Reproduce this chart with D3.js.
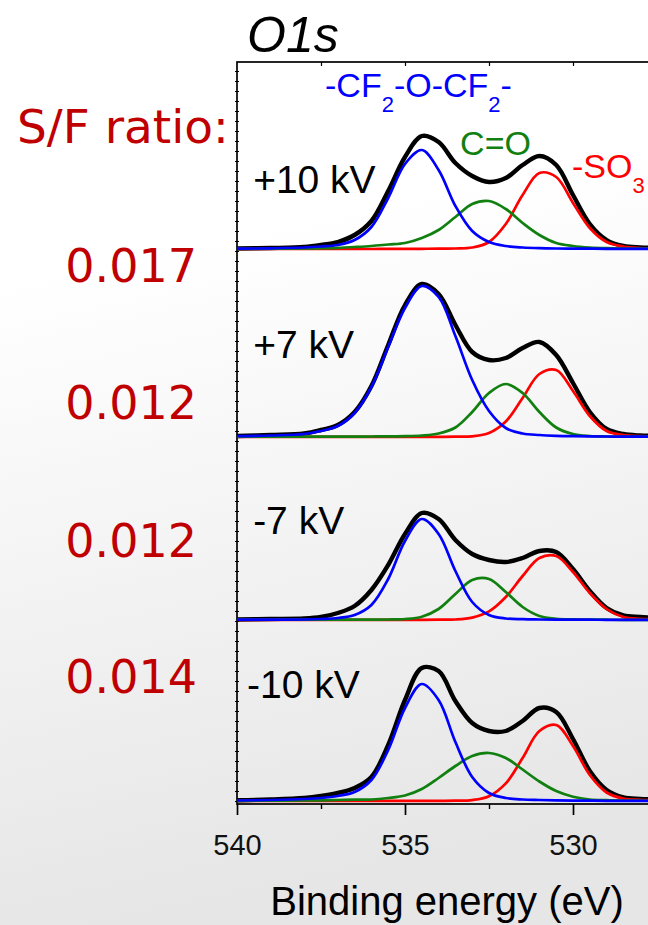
<!DOCTYPE html>
<html>
<head>
<meta charset="utf-8">
<script src="https://cdn.jsdelivr.net/npm/d3@7"></script>
<style>
  html, body { margin: 0; padding: 0; }
  body { width: 648px; height: 925px; overflow: hidden; }
</style>
</head>
<body>
<div id="chart"></div>
<script>
let width = 648;
let height = 925;

// binding energy grid (eV) shared by all spectra
const energy = [540, 539, 538, 537.5, 537, 536.5, 536, 535.5, 535, 534.5, 534, 533.5,
                533, 532.5, 532, 531.5, 531, 530.5, 530, 529.5, 529, 528.5, 528, 527.5];

// spectra, top to bottom
const samples = ["+10 kV", "+7 kV", "-7 kV", "-10 kV"];
const offsets = [552, 364, 181, 0];
const ratios = ["0.017", "0.012", "0.012", "0.014"];

// measured envelope (black)
const dataP10 = [0.5, 1, 2, 4, 7, 14, 28, 58, 92, 113, 107, 86, 73, 67, 71, 84, 93, 84, 54, 25, 9, 3, 1.5, 1];
const dataP7  = [1, 2, 3.5, 7, 12, 25, 51, 92, 132, 153, 143, 112, 85, 77, 79, 89, 95, 82, 54, 25, 8, 3, 1.5, 1];
const dataM7  = [0.5, 1, 1.5, 3, 7, 14, 30, 55, 86, 107, 101, 80, 66, 60, 58, 62, 69, 68, 51, 29, 12, 4.5, 3, 2];
const dataM10 = [0.8, 1.5, 3, 5, 8, 13, 24, 56, 101, 133, 130, 100, 78, 70, 70, 80, 93, 89, 62, 30, 11, 3.5, 2, 1.5];

// -CF2-O-CF2- component (blue)
const ethP10 = [0.3, 0.7, 1.5, 2.5, 4, 9, 22, 51, 85, 99, 79, 43, 18, 7, 3, 1.5, 0.8, 0.5, 0.4, 0.3, 0.2, 0.2, 0.1, 0.1];
const ethP7  = [0.8, 1.5, 3, 6, 11, 24, 50, 90, 129, 151, 140, 101, 57, 26, 9, 3.5, 2, 1.2, 0.8, 0.6, 0.5, 0.4, 0.3, 0.3];
const ethM7  = [0.3, 0.3, 0.5, 1, 2, 5, 15, 41, 79, 101, 86, 49, 18, 5, 1.5, 0.8, 0.5, 0.3, 0.3, 0.3, 0.2, 0.2, 0.2, 0.2];
const ethM10 = [0.5, 1, 2, 3, 5, 9, 21, 51, 93, 117, 101, 59, 24, 8, 3, 1.5, 1, 0.6, 0.4, 0.3, 0.2, 0.2, 0.2, 0.2];

// C=O component (green)
const coP10 = [0.2, 0.3, 0.5, 0.8, 1.2, 2, 3, 4.5, 6, 11, 19, 32, 45, 48, 40, 26, 14, 6, 3, 1.5, 0.8, 0.5, 0.4, 0.3];
const coP7  = [0.3, 0.3, 0.3, 0.3, 0.4, 0.4, 0.5, 0.6, 0.8, 1.5, 3.5, 9.5, 25, 44, 53, 44, 25, 9.5, 3, 1, 0.5, 0.4, 0.3, 0.3];
const coM7  = [0.3, 0.3, 0.3, 0.3, 0.3, 0.3, 0.4, 0.5, 1, 3.3, 11, 26, 40, 41, 28, 13, 4, 1.2, 0.6, 0.4, 0.3, 0.2, 0.2, 0.2];
const coM10 = [0.2, 0.3, 0.5, 0.7, 1, 1.3, 1.5, 3, 5.5, 12, 23, 35, 45, 48, 43, 31.5, 19.5, 10, 4.3, 1.5, 0.8, 0.4, 0.3, 0.2];

// -SO3 component (red)
const soP10 = [0, 0, 0, 0, 0, 0, 0, 0.1, 0.1, 0.2, 0.3, 0.5, 1.5, 7, 25, 54, 76, 72, 46, 21, 7, 2.5, 1, 0.5];
const soP7  = [0.2, 0.2, 0.2, 0.2, 0.2, 0.2, 0.2, 0.2, 0.2, 0.2, 0.2, 0.3, 0.7, 4, 15.5, 39, 63, 67, 46, 21, 6, 2, 0.8, 0.5];
const soM7  = [0.2, 0.2, 0.2, 0.2, 0.2, 0.2, 0.2, 0.2, 0.2, 0.2, 0.3, 0.5, 2.4, 8.6, 23, 44, 62, 64, 48, 27, 11, 3, 1.2, 0.5];
const soM10 = [0.1, 0.1, 0.1, 0.1, 0.1, 0.1, 0.1, 0.1, 0.1, 0.1, 0.2, 0.3, 0.9, 4.8, 17.6, 43, 70, 76, 55, 26, 8.5, 2.5, 1.2, 0.6];

// x axis ticks
const majorTicks = [540, 535, 530];
const tickLabels = ["540", "535", "530"];
const minorTicks = [537.5, 532.5, 527.5];

const spectra = [
    { data: dataP10, eth: ethP10, co: coP10, so: soP10 },
    { data: dataP7, eth: ethP7, co: coP7, so: soP7 },
    { data: dataM7, eth: ethM7, co: coM7, so: soM7 },
    { data: dataM10, eth: ethM10, co: coM10, so: soM10 }
];

// sample label placement: energy of left edge, height above own baseline
const labelEnergy = [539.52, 539.52, 539.52, 539.7];
const labelLift = [56, 79, 86, 103];

const plot = { left: 237, top: 62, bottom: 804, right: 657 };
const sans = "'Liberation Sans', Arial, sans-serif";
const darkRed = "#c00000";

const svg = d3.select("#chart")
    .append("svg")
    .attr("width", width)
    .attr("height", height);

// background gradient
const defs = svg.append("defs");
const grad = defs.append("linearGradient")
    .attr("id", "bg")
    .attr("x1", "0").attr("y1", "0").attr("x2", "0.15").attr("y2", "1");
grad.append("stop").attr("offset", "0").attr("stop-color", "#ffffff");
grad.append("stop").attr("offset", "0.3").attr("stop-color", "#ffffff");
grad.append("stop").attr("offset", "1").attr("stop-color", "#e6e6e6");
svg.append("rect")
    .attr("width", width).attr("height", height)
    .attr("fill", "url(#bg)");

defs.append("clipPath").attr("id", "clip")
    .append("rect")
    .attr("x", plot.left).attr("y", plot.top)
    .attr("width", plot.right - plot.left)
    .attr("height", plot.bottom - plot.top);

const x = d3.scaleLinear().domain([540, 527.5]).range([plot.left, plot.right]);
const y = d3.scaleLinear().domain([-3, 739]).range([plot.bottom, plot.top]);

// frame
svg.append("rect")
    .attr("x", plot.left).attr("y", plot.top)
    .attr("width", plot.right - plot.left + 20)
    .attr("height", plot.bottom - plot.top)
    .attr("fill", "none")
    .attr("stroke", "#000")
    .attr("stroke-width", 1.7);

// bottom axis
const bottomAxis = svg.append("g")
    .attr("transform", `translate(0, ${plot.bottom})`)
    .call(d3.axisBottom(x)
        .tickValues(majorTicks)
        .tickSize(11)
        .tickPadding(19)
        .tickFormat((d, i) => tickLabels[i]));
bottomAxis.select(".domain").remove();
bottomAxis.selectAll("line").attr("stroke-width", 1.7);
bottomAxis.selectAll("text")
    .attr("font-family", sans)
    .attr("font-size", 29)
    .attr("fill", "#111");

const bottomMinor = svg.append("g")
    .attr("transform", `translate(0, ${plot.bottom})`)
    .call(d3.axisBottom(x).tickValues(minorTicks).tickSize(5).tickFormat(""));
bottomMinor.select(".domain").remove();
bottomMinor.selectAll("line").attr("stroke-width", 1.4);

// top axis (inward ticks)
const topAxis = svg.append("g")
    .attr("transform", `translate(0, ${plot.top})`)
    .call(d3.axisBottom(x)
        .tickValues(majorTicks.concat(minorTicks).filter(d => d < 540))
        .tickSize(4)
        .tickFormat(""));
topAxis.select(".domain").remove();
topAxis.selectAll("line").attr("stroke-width", 1.2);

// left spine small ticks
[d3.axisLeft(y), d3.axisRight(y)].forEach(ax => {
    const g = svg.append("g")
        .attr("transform", `translate(${plot.left}, 0)`)
        .call(ax.ticks(80).tickSize(2).tickFormat(""));
    g.select(".domain").remove();
    g.selectAll("line").attr("stroke-width", 1);
});

// curves
const curves = svg.append("g").attr("clip-path", "url(#clip)");

function lineFor(offset) {
    return d3.line()
        .x((d, i) => x(energy[i]))
        .y(d => y(d + offset))
        .curve(d3.curveCatmullRom.alpha(0.5));
}

const layers = [
    { key: "data", color: "#000", w: 4.4 },
    { key: "so", color: "#ff0000", w: 2.7 },
    { key: "co", color: "#118011", w: 2.7 },
    { key: "eth", color: "#0000ff", w: 2.7 }
];

spectra.forEach((s, k) => {
    const line = lineFor(offsets[k]);
    layers.forEach(l => {
        curves.append("path")
            .datum(s[l.key])
            .attr("d", line)
            .attr("fill", "none")
            .attr("stroke", l.color)
            .attr("stroke-width", l.w)
            .attr("stroke-linejoin", "round");
    });
});

// sample labels
svg.append("g").selectAll("text")
    .data(samples)
    .join("text")
    .attr("x", (d, i) => x(labelEnergy[i]))
    .attr("y", (d, i) => y(offsets[i] + labelLift[i]))
    .attr("font-family", sans)
    .attr("font-size", 39)
    .attr("fill", "#000")
    .text(d => d);

// component labels
function compLabel(parts, e, h, color) {
    const t = svg.append("text")
        .attr("x", x(e))
        .attr("y", y(h))
        .attr("font-family", sans)
        .attr("font-size", 34)
        .attr("fill", color);
    parts.forEach(p => {
        t.append("tspan")
            .attr("font-size", p.sub ? 22 : 34)
            .attr("dy", p.sub ? 15 : (p.back ? -15 : 0))
            .text(p.text);
    });
}
compLabel([{ text: "-CF" }, { text: "2", sub: true }, { text: "-O-CF", back: true },
           { text: "2", sub: true }, { text: "-", back: true }], 537.38, 704, "#0000ff");
compLabel([{ text: "C=O" }], 533.36, 646, "#118011");
compLabel([{ text: "-SO" }, { text: "3", sub: true }], 530.03, 623, "#ff0000");

// title
svg.append("text")
    .attr("x", 247)
    .attr("y", 52)
    .attr("font-family", sans)
    .attr("font-style", "italic")
    .attr("font-size", 50)
    .attr("fill", "#000")
    .text("O1s");

// x label
svg.append("text")
    .attr("x", 447)
    .attr("y", 915)
    .attr("text-anchor", "middle")
    .attr("font-family", sans)
    .attr("font-size", 40)
    .attr("fill", "#000")
    .text("Binding energy (eV)");

// S/F ratios
svg.append("text")
    .attr("x", 17)
    .attr("y", 143)
    .attr("font-family", "'DejaVu Sans', sans-serif")
    .attr("font-size", 47)
    .attr("fill", darkRed)
    .text("S/F ratio:");

const ratioY = [282, 419, 557, 693];
svg.append("g").selectAll("text")
    .data(ratios)
    .join("text")
    .attr("x", 197)
    .attr("y", (d, i) => ratioY[i])
    .attr("text-anchor", "end")
    .attr("font-family", "'DejaVu Sans', sans-serif")
    .attr("font-size", 46)
    .attr("fill", darkRed)
    .text(d => d);
</script>
</body>
</html>
